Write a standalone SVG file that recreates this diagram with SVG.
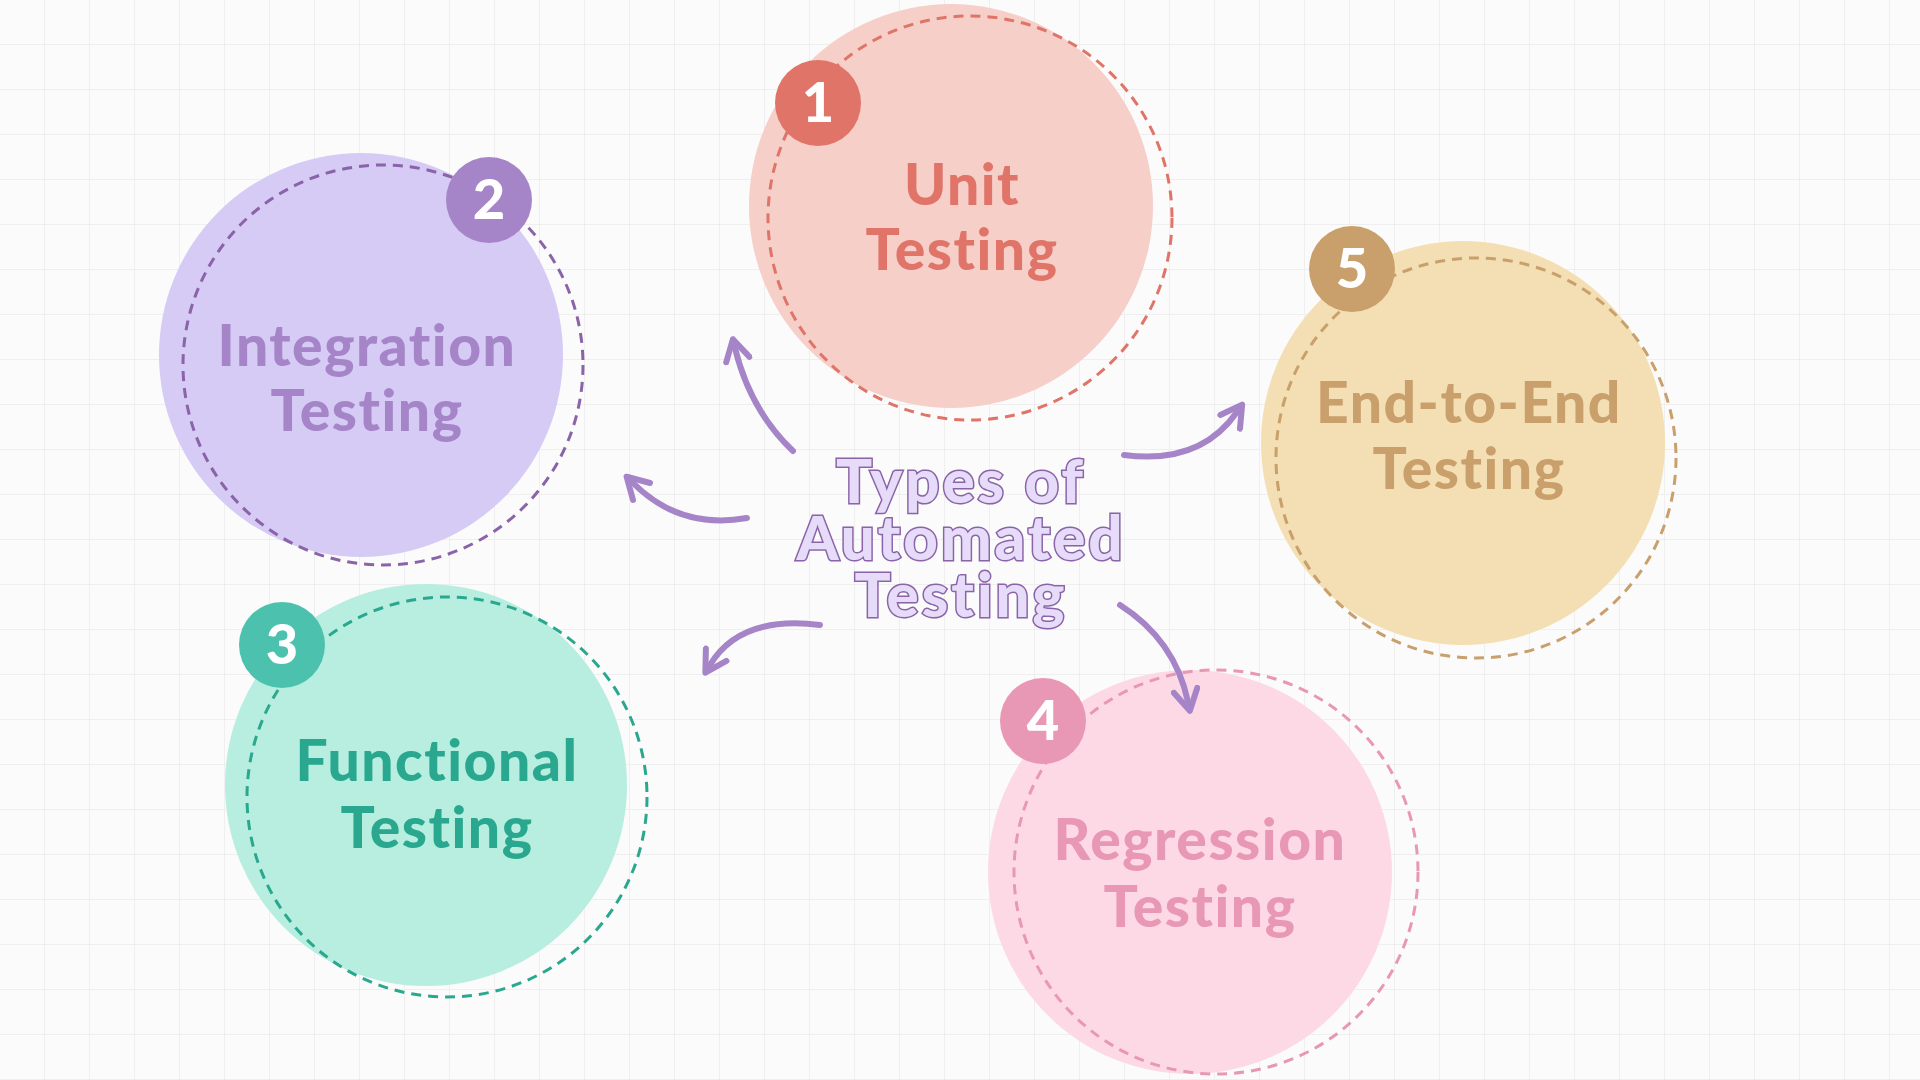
<svg xmlns="http://www.w3.org/2000/svg" width="1920" height="1080" viewBox="0 0 1920 1080">
<defs>
<pattern id="grid" width="45" height="45" patternUnits="userSpaceOnUse"><path d="M45 0V45M0 45H45" fill="none" stroke="#ececec" stroke-width="1.5"/></pattern>
<marker id="ah" viewBox="0 0 10 10" refX="5" refY="5" markerWidth="5" markerHeight="5" orient="auto-start-reverse"><path d="M1 1L8 5L1 9" fill="none" stroke="#a585c8" stroke-width="2" stroke-linecap="round" stroke-linejoin="round"/></marker>
</defs>
<style>
.lbl{font-family:Lato,"Noto Sans",sans-serif;font-weight:900;font-size:57px;text-anchor:middle;letter-spacing:1.5px}
.num{font-family:Lato,"Noto Sans",sans-serif;font-weight:900;font-size:56px;text-anchor:middle;fill:#fff}
.dash{fill:none;stroke-width:3;stroke-dasharray:10 7}
.title{font-family:Lato,"Noto Sans",sans-serif;font-weight:900;font-size:60px;text-anchor:middle;fill:#e6dbf8;stroke:#8a63a8;stroke-width:3;paint-order:stroke;letter-spacing:3px}
.arr{fill:none;stroke:#a585c8;stroke-width:6;stroke-linecap:round;marker-end:url(#ah)}
</style>
<rect width="1920" height="1080" fill="#fbfbfb"/>
<rect width="1920" height="1080" fill="url(#grid)"/>
<g id="unit">
<circle cx="951" cy="206" r="202" fill="#f6cfc9"/>
<circle cx="970" cy="218" r="202" class="dash" stroke="#e07468"/>
<circle cx="818" cy="103" r="43" fill="#e07468"/><text x="818" y="122" class="num">1</text>
<text x="962" y="205" class="lbl" fill="#e07468">Unit</text><text x="962" y="270" class="lbl" fill="#e07468">Testing</text>
</g>
<g id="integration">
<circle cx="361" cy="355" r="202" fill="#d5cbf5"/>
<circle cx="383" cy="365" r="200" class="dash" stroke="#8a63a8"/>
<circle cx="489" cy="200" r="43" fill="#a585c8"/><text x="489" y="219" class="num">2</text>
<text x="367" y="366" class="lbl" fill="#a585c8">Integration</text><text x="367" y="431" class="lbl" fill="#a585c8">Testing</text>
</g>
<g id="functional">
<circle cx="426" cy="785" r="201" fill="#b8eedf"/>
<circle cx="447" cy="797" r="200" class="dash" stroke="#2aa88f"/>
<circle cx="282" cy="645" r="43" fill="#4cc2ae"/><text x="282" y="664" class="num">3</text>
<text x="437" y="781" class="lbl" fill="#2aa88f">Functional</text><text x="437" y="848" class="lbl" fill="#2aa88f">Testing</text>
</g>
<g id="regression">
<circle cx="1190" cy="872" r="202" fill="#fdd9e6"/>
<circle cx="1216" cy="872" r="202" class="dash" stroke="#e898b4"/>
<circle cx="1043" cy="721" r="43" fill="#e898b4"/><text x="1043" y="740" class="num">4</text>
<text x="1200" y="860" class="lbl" fill="#e898b4">Regression</text><text x="1200" y="927" class="lbl" fill="#e898b4">Testing</text>
</g>
<g id="e2e">
<circle cx="1463" cy="443" r="202" fill="#f3dfb3"/>
<circle cx="1476" cy="458" r="200" class="dash" stroke="#c9a06c"/>
<circle cx="1352" cy="269" r="43" fill="#c9a06c"/><text x="1352" y="288" class="num">5</text>
<text x="1469" y="423" class="lbl" fill="#c9a06c">End-to-End</text><text x="1469" y="489" class="lbl" fill="#c9a06c">Testing</text>
</g>
<g id="title">
<text x="961" y="503" class="title">Types of</text>
<text x="961" y="560" class="title">Automated</text>
<text x="961" y="617" class="title">Testing</text>
</g>
<g id="connectors">
<path class="arr" d="M793 451Q750 410 735 348"/>
<path class="arr" d="M747 518Q680 530 633 483"/>
<path class="arr" d="M820 625Q740 615 710 665"/>
<path class="arr" d="M1120 605Q1175 640 1188 702"/>
<path class="arr" d="M1124 455Q1200 465 1237 412"/>
</g>
</svg>
